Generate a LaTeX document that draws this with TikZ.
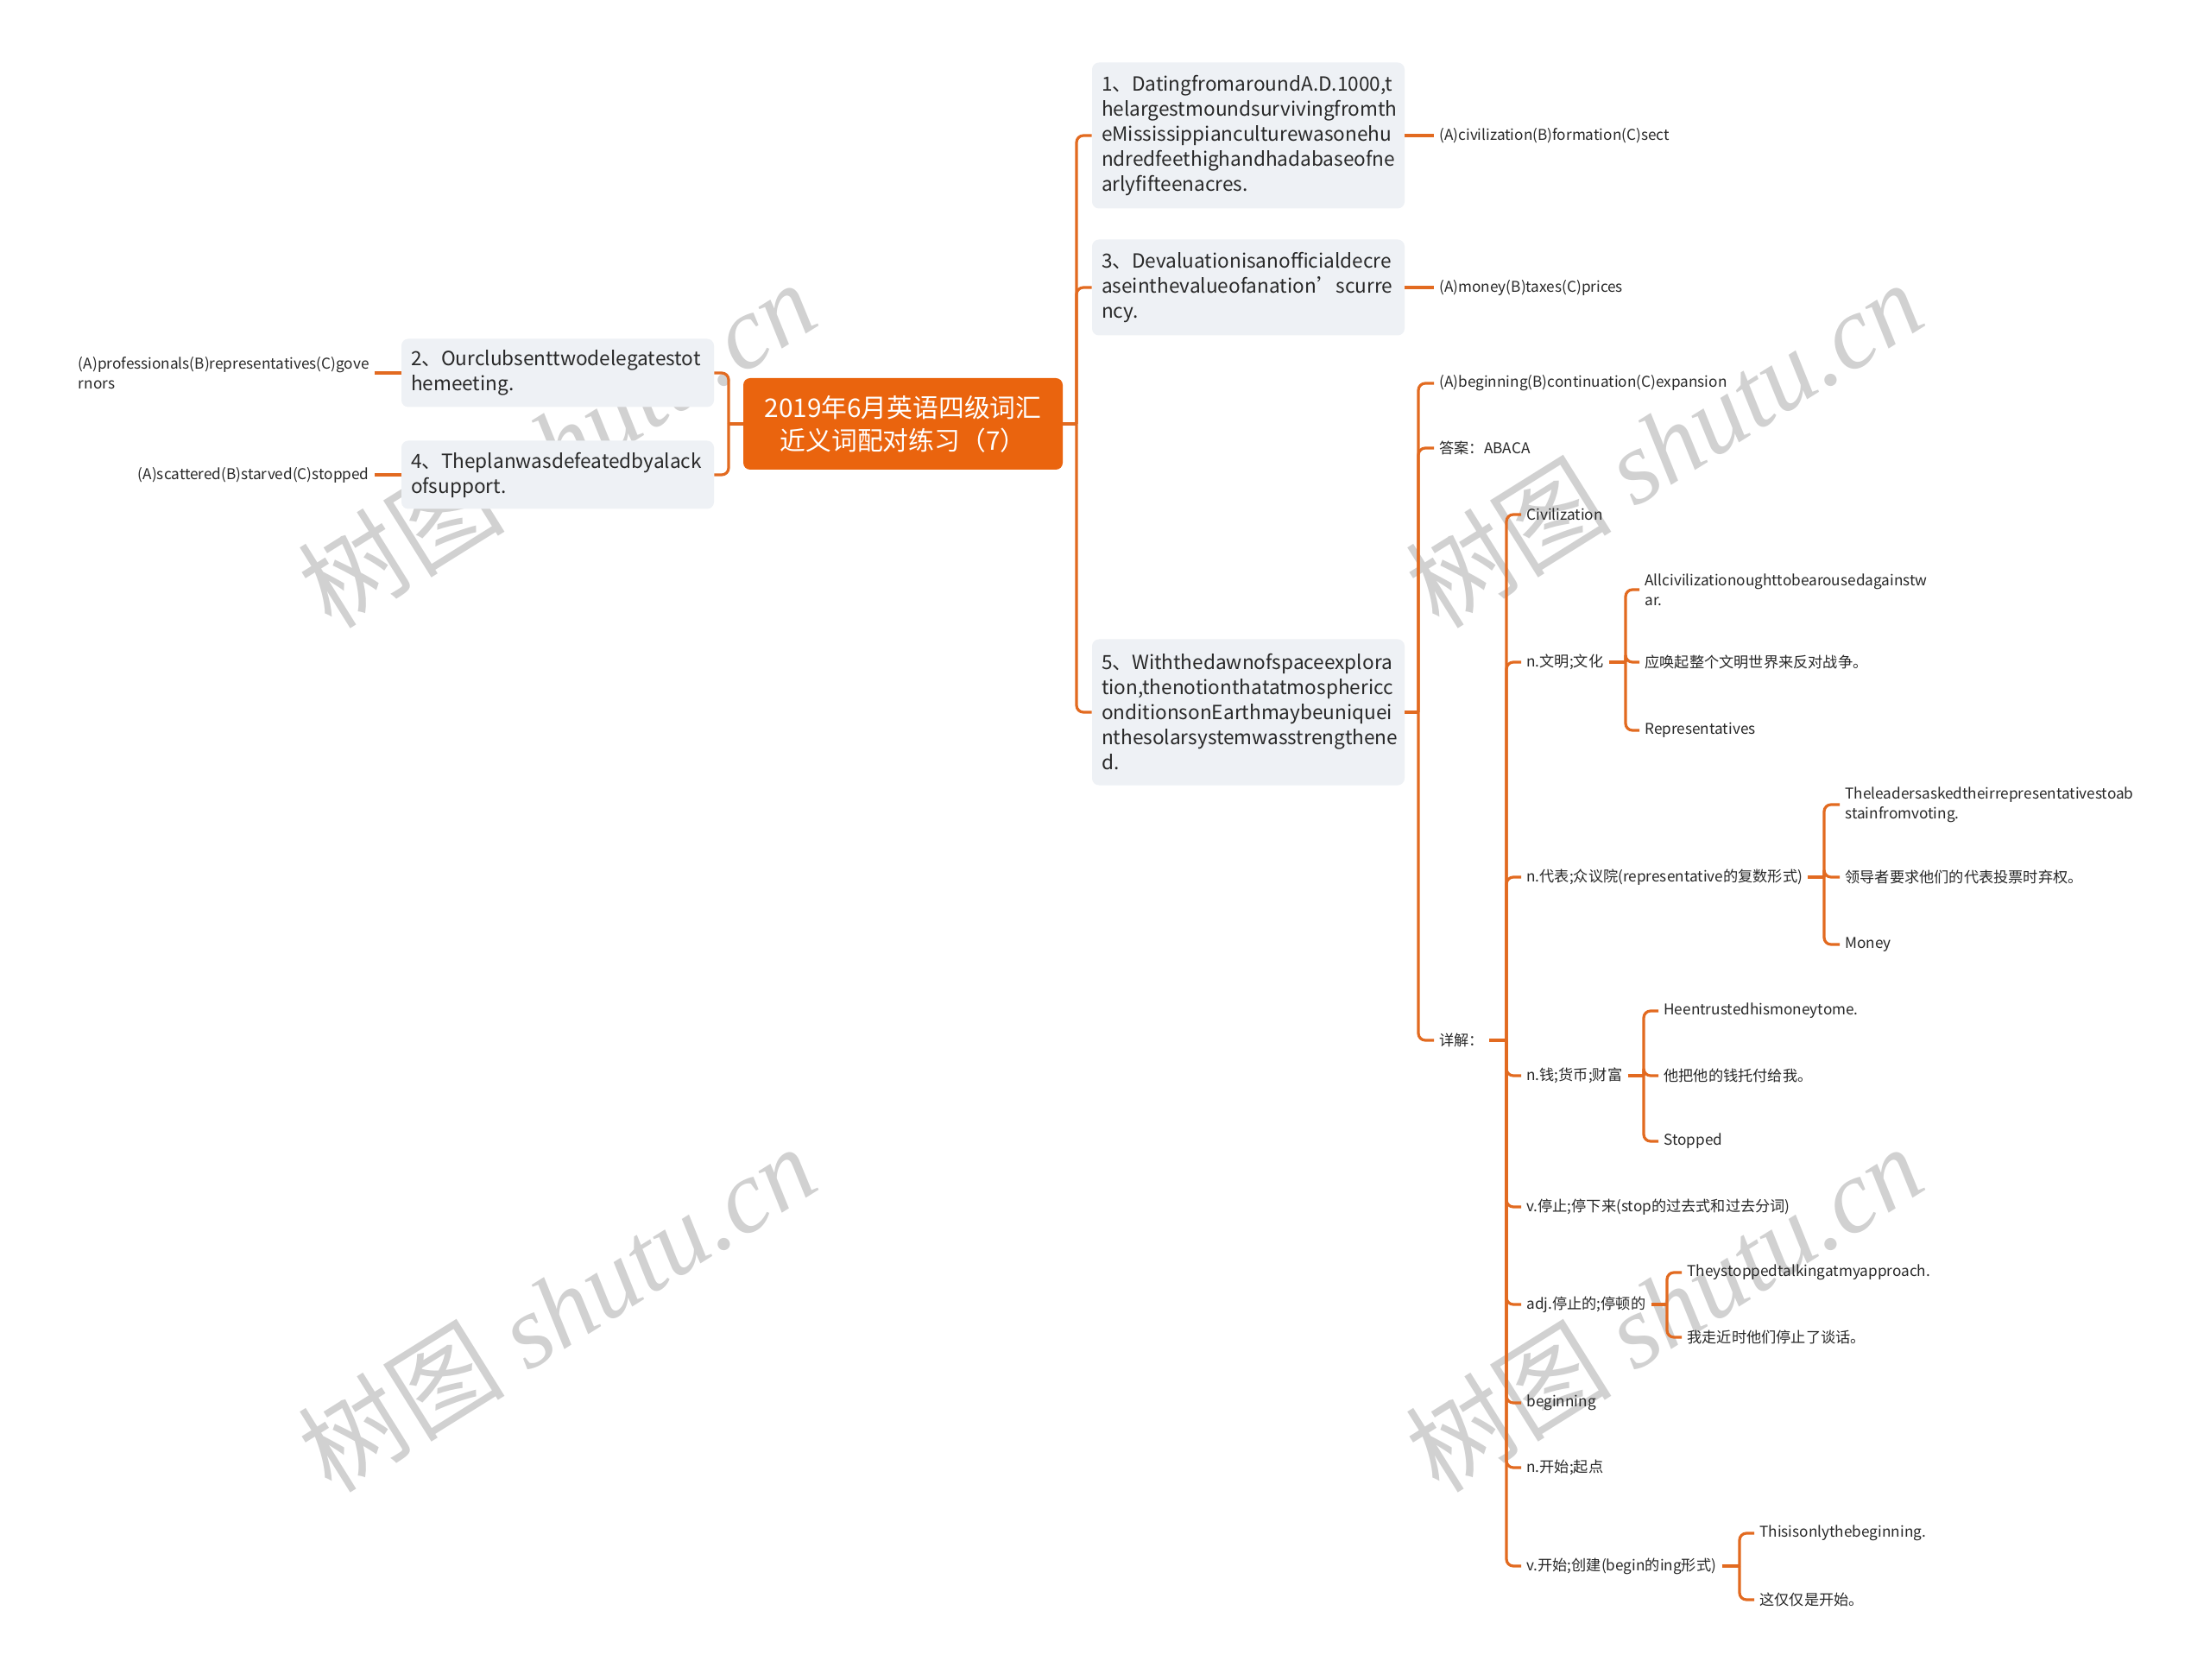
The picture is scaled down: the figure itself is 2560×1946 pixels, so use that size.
\documentclass[tikz,border=0pt]{standalone}
\usepackage{fontspec}
\setmainfont{Noto Sans CJK SC}
\newfontfamily\wmlatin{Liberation Serif}
\definecolor{mindorange}{RGB}{234,100,14}
\definecolor{branch}{RGB}{226,106,32}
\definecolor{qfill}{RGB}{238,241,245}
\definecolor{inkgray}{RGB}{40,40,40}
\usetikzlibrary{positioning}

\begin{document}
\begin{tikzpicture}[
  x=0.5pt, y=-0.5pt,
  root/.style={fill=mindorange, rounded corners=4pt, text=white, align=center, minimum width=185pt, minimum height=53pt, inner sep=0pt, font=\fontsize{14.9}{19}\selectfont},
  qbox/.style={fill=qfill, rounded corners=4pt, text=inkgray, align=left, text width=170pt, inner xsep=5.5pt, inner ysep=0pt, font=\fontsize{11.3}{14.5}\selectfont},
  leaf/.style={text=inkgray, align=left, inner xsep=3pt, inner ysep=1pt, font=\fontsize{8.6}{11.5}\selectfont},
  link/.style={draw=branch, line width=1.6pt, rounded corners=4pt},
  wmark/.style={text=black!18, rotate=32, inner sep=0pt, font=\fontsize{60}{60}\selectfont}
]
  \fill[white] (0,0) rectangle (2560,1946);
  \useasboundingbox (0,0) rectangle (2560,1946);

  \node[wmark] (wm1) at (645,514) {树图 {\wmlatin\itshape shutu.cn}};
  \node[wmark] (wm2) at (1927,514) {树图 {\wmlatin\itshape shutu.cn}};
  \node[wmark] (wm3) at (645,1515) {树图 {\wmlatin\itshape shutu.cn}};
  \node[wmark] (wm4) at (1927,1515) {树图 {\wmlatin\itshape shutu.cn}};

  \node[root] (root) at (1046,491) {2019年6月英语四级词汇\\近义词配对练习（7）};

  \node[qbox, minimum height=84.5pt] (q1) at (1446,157) {
    1、DatingfromaroundA.D.1000,t\\helargestmoundsurvivingfromth\\eMississippianculturewasonehu\\ndredfeethighandhadabaseofne\\arlyfifteenacres.
  };
  \node[qbox, minimum height=55.5pt] (q3) at (1446,333) {
    3、Devaluationisanofficialdecre\\aseinthevalueofanation’scurre\\ncy.
  };
  \node[qbox, minimum height=84.5pt] (q5) at (1446,825) {
    5、Withthedawnofspaceexplora\\tion,thenotionthatatmosphericc\\onditionsonEarthmaybeuniquei\\nthesolarsystemwasstrengthene\\d.
  };
  \node[qbox, minimum height=39.5pt] (q2) at (646,432) {
    2、Ourclubsenttwodelegatestot\\hemeeting.
  };
  \node[qbox, minimum height=39.5pt] (q4) at (646,550) {
    4、Theplanwasdefeatedbyalack\\ofsupport.
  };

  \node[leaf, anchor=west] (a1) at (1661,157) {(A)civilization(B)formation(C)sect};
  \node[leaf, anchor=west] (a3) at (1661,333) {(A)money(B)taxes(C)prices};
  \node[leaf, anchor=east] (a2) at (434,432) {(A)professionals(B)representatives(C)gove\\rnors};
  \node[leaf, anchor=east] (a4) at (434,550) {(A)scattered(B)starved(C)stopped};

  \node[leaf, anchor=west] (opt5) at (1661,444) {(A)beginning(B)continuation(C)expansion};
  \node[leaf, anchor=west] (ans) at (1661,519) {答案：ABACA};
  \node[leaf, anchor=west] (xj) at (1661,1205) {详解：};

  \node[leaf, anchor=west] (civ) at (1762,596) {Civilization};
  \node[leaf, anchor=west] (nwm) at (1762,767) {n.文明;文化};
  \node[leaf, anchor=west] (ndb) at (1762,1016) {n.代表;众议院(representative的复数形式)};
  \node[leaf, anchor=west] (nq) at (1762,1246) {n.钱;货币;财富};
  \node[leaf, anchor=west] (vtz) at (1762,1398) {v.停止;停下来(stop的过去式和过去分词)};
  \node[leaf, anchor=west] (adj) at (1762,1511) {adj.停止的;停顿的};
  \node[leaf, anchor=west] (beg) at (1762,1625) {beginning};
  \node[leaf, anchor=west] (nks) at (1762,1700) {n.开始;起点};
  \node[leaf, anchor=west] (vks) at (1762,1814) {v.开始;创建(begin的ing形式)};

  \node[leaf, anchor=west] (w1) at (1899,683) {Allcivilizationoughttobearousedagainstw\\ar.};
  \node[leaf, anchor=west] (w2) at (1899,767) {应唤起整个文明世界来反对战争。};
  \node[leaf, anchor=west] (w3) at (1899,846) {Representatives};

  \node[leaf, anchor=west] (d1) at (2131,932) {Theleadersaskedtheirrepresentativestoab\\stainfromvoting.};
  \node[leaf, anchor=west] (d2) at (2131,1016) {领导者要求他们的代表投票时弃权。};
  \node[leaf, anchor=west] (d3) at (2131,1094) {Money};

  \node[leaf, anchor=west] (m1) at (1921,1171) {Heentrustedhismoneytome.};
  \node[leaf, anchor=west] (m2) at (1921,1246) {他把他的钱托付给我。};
  \node[leaf, anchor=west] (m3) at (1921,1322) {Stopped};

  \node[leaf, anchor=west] (s1) at (1948,1474) {Theystoppedtalkingatmyapproach.};
  \node[leaf, anchor=west] (s2) at (1948,1549) {我走近时他们停止了谈话。};

  \node[leaf, anchor=west] (b1) at (2032,1776) {Thisisonlythebeginning.};
  \node[leaf, anchor=west] (b2) at (2032,1853) {这仅仅是开始。};

  \coordinate (sR) at (1247,0);
  \coordinate (sL) at (844,0);
  \coordinate (s5) at (1643,0);
  \coordinate (sx) at (1745,0);
  \coordinate (sw) at (1883,0);
  \coordinate (sd) at (2113,0);
  \coordinate (sm) at (1904,0);
  \coordinate (sa) at (1931,0);
  \coordinate (sb) at (2015,0);

  \draw[link] (root.east) -- (root.east -| sR);
  \foreach \c in {q1,q3,q5} \draw[link] (root.east -| sR) |- (\c.west);
  \draw[link] (root.west) -- (root.west -| sL);
  \foreach \c in {q2,q4} \draw[link] (root.west -| sL) |- (\c.east);

  \draw[link] (q1.east) -- (a1.west);
  \draw[link] (q3.east) -- (a3.west);
  \draw[link] (q2.west) -- (a2.east);
  \draw[link] (q4.west) -- (a4.east);

  \draw[link] (q5.east) -- (q5.east -| s5);
  \foreach \c in {opt5,ans,xj} \draw[link] (q5.east -| s5) |- (\c.west);

  \draw[link] (xj.east) -- (xj.east -| sx);
  \foreach \c in {civ,nwm,ndb,nq,vtz,adj,beg,nks,vks} \draw[link] (xj.east -| sx) |- (\c.west);

  \draw[link] (nwm.east) -- (nwm.east -| sw);
  \foreach \c in {w1,w2,w3} \draw[link] (nwm.east -| sw) |- (\c.west);
  \draw[link] (ndb.east) -- (ndb.east -| sd);
  \foreach \c in {d1,d2,d3} \draw[link] (ndb.east -| sd) |- (\c.west);
  \draw[link] (nq.east) -- (nq.east -| sm);
  \foreach \c in {m1,m2,m3} \draw[link] (nq.east -| sm) |- (\c.west);
  \draw[link] (adj.east) -- (adj.east -| sa);
  \foreach \c in {s1,s2} \draw[link] (adj.east -| sa) |- (\c.west);
  \draw[link] (vks.east) -- (vks.east -| sb);
  \foreach \c in {b1,b2} \draw[link] (vks.east -| sb) |- (\c.west);
\end{tikzpicture}
\end{document}
